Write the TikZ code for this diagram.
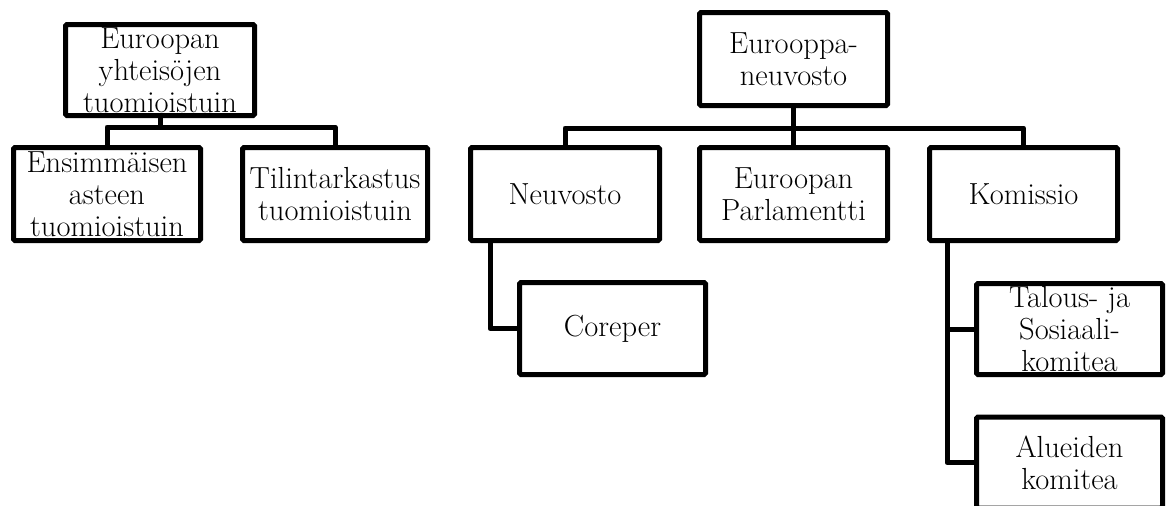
\documentclass[tikz,border=0pt]{standalone}
\usepackage{fontspec}
\begin{document}
\begin{tikzpicture}[x=1pt,y=-1pt,
  box/.style 2 args={draw=black, line width=5pt, rounded corners=1.5pt, fill=white,
    align=center, inner sep=0pt, font=\fontsize{30.5}{32}\selectfont,
    minimum width=#1pt-5pt, minimum height=#2pt-5pt},
  conn/.style={draw=black, line width=5pt, line join=round}]
\useasboundingbox (0,0) rectangle (1173,506);
\clip (0,0) rectangle (1173,506);
% bars
\coordinate (lbar) at (0,127);
\coordinate (rbar) at (0,128);
\coordinate (nx) at (490,0);
\coordinate (kx) at (947,0);
% left tree
\node[box={194}{96}] (L0) at (160,70) {Euroopan\\yhteisöjen\\tuomioistuin};
\node[box={192}{98}] (L1) at (107,194) {Ensimmäisen\\asteen\\tuomioistuin};
\node[box={190}{98}] (L2) at (335,194) {Tilintarkastus\\tuomioistuin};
% right tree
\node[box={193}{98}] (R0) at (793.5,59) {Eurooppa-\\neuvosto};
\node[box={194}{98}] (N) at (565,194) {Neuvosto};
\node[box={193}{98}] (P) at (793.5,194) {Euroopan\\Parlamentti};
\node[box={193}{98}] (K) at (1023.5,194) {Komissio};
\node[box={191}{97}] (C) at (612.5,328.5) {Coreper};
\node[box={191}{96}] (T) at (1069.5,329) {Talous- ja\\Sosiaali-\\komitea};
\node[box={191}{96}] (A) at (1069.5,462.5) {Alueiden\\komitea};
% connectors
\draw[conn] (L0.south) -- (L0.south |- lbar) -| (L1.north);
\draw[conn] (L0.south |- lbar) -| (L2.north);
\draw[conn] (R0.south) -- (P.north);
\draw[conn] (R0.south |- rbar) -| (N.north);
\draw[conn] (R0.south |- rbar) -| (K.north);
\draw[conn] (N.south -| nx) |- (C.west);
\draw[conn] (K.south -| kx) |- (T.west);
\draw[conn] (K.south -| kx) |- (A.west);
\end{tikzpicture}
\end{document}
